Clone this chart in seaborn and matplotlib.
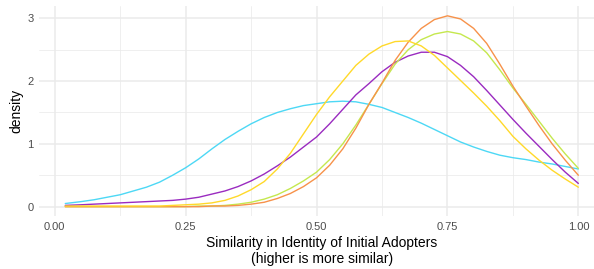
import pandas as pd
import matplotlib.pyplot as plt
from matplotlib.ticker import FixedLocator
import seaborn as sns

# x positions the curves were read at
similarity = [0.02, 0.05, 0.075, 0.10, 0.125, 0.15, 0.175, 0.20, 0.225, 0.25,
              0.275, 0.30, 0.325, 0.35, 0.375, 0.40, 0.425, 0.45, 0.475, 0.50,
              0.525, 0.55, 0.575, 0.60, 0.625, 0.65, 0.675, 0.70, 0.725, 0.75,
              0.775, 0.80, 0.825, 0.85, 0.875, 0.90, 0.925, 0.95, 0.975, 1.00]

# density
dens_cyan = [0.05, 0.08, 0.11, 0.15, 0.19, 0.25, 0.31, 0.39, 0.50, 0.62,
             0.76, 0.92, 1.07, 1.20, 1.32, 1.42, 1.50, 1.56, 1.61, 1.64,
             1.67, 1.68, 1.67, 1.63, 1.58, 1.50, 1.42, 1.33, 1.23, 1.13,
             1.03, 0.95, 0.88, 0.82, 0.78, 0.75, 0.71, 0.68, 0.64, 0.60]
dens_purple = [0.02, 0.03, 0.04, 0.05, 0.06, 0.07, 0.08, 0.09, 0.10, 0.12,
               0.15, 0.20, 0.25, 0.32, 0.41, 0.52, 0.65, 0.79, 0.95, 1.11,
               1.32, 1.55, 1.78, 1.96, 2.15, 2.30, 2.40, 2.46, 2.46, 2.39,
               2.25, 2.07, 1.85, 1.62, 1.39, 1.17, 0.96, 0.75, 0.55, 0.37]
dens_green = [0.00, 0.00, 0.00, 0.00, 0.00, 0.00, 0.00, 0.00, 0.00, 0.00,
              0.01, 0.01, 0.02, 0.04, 0.07, 0.12, 0.19, 0.29, 0.41, 0.55,
              0.75, 1.00, 1.30, 1.63, 1.96, 2.27, 2.50, 2.66, 2.75, 2.79,
              2.75, 2.64, 2.45, 2.18, 1.89, 1.63, 1.36, 1.09, 0.84, 0.61]
dens_orange = [0.00, 0.00, 0.00, 0.00, 0.00, 0.00, 0.00, 0.00, 0.00, 0.00,
               0.00, 0.01, 0.01, 0.02, 0.04, 0.07, 0.13, 0.21, 0.32, 0.46,
               0.66, 0.92, 1.25, 1.63, 1.97, 2.33, 2.62, 2.84, 2.98, 3.04,
               2.99, 2.84, 2.60, 2.27, 1.92, 1.60, 1.29, 1.00, 0.74, 0.50]
dens_yellow = [0.01, 0.01, 0.01, 0.01, 0.01, 0.01, 0.01, 0.01, 0.02, 0.03,
               0.04, 0.06, 0.10, 0.17, 0.27, 0.40, 0.60, 0.85, 1.16, 1.47,
               1.75, 2.00, 2.25, 2.43, 2.56, 2.63, 2.64, 2.56, 2.41, 2.21,
               2.01, 1.81, 1.60, 1.37, 1.12, 0.92, 0.74, 0.58, 0.44, 0.31]

groups = ["cyan", "purple", "green", "orange", "yellow"]
colors = ["#4DD8F5", "#9A2BC0", "#C5E84E", "#F7924A", "#FFD92A"]

frames = []
for name, vals in zip(groups, [dens_cyan, dens_purple, dens_green, dens_orange, dens_yellow]):
    frames.append(pd.DataFrame({"similarity": similarity, "density": vals, "group": name}))
df = pd.concat(frames, ignore_index=True)

sns.set_theme(style="white")
plt.rcParams['font.family'] = ['Liberation Sans', 'DejaVu Sans']

fig = plt.figure(figsize=(5.94, 2.69), dpi=100)
ax = fig.add_axes([39.3 / 594, 52.8 / 269, (604 - 39.3) / 594, (216.2 - 6.4) / 269])

sns.lineplot(data=df, x="similarity", y="density", hue="group", hue_order=groups,
             palette=colors, linewidth=1.0, estimator=None, legend=False, ax=ax,
             solid_joinstyle="round", solid_capstyle="round")

ax.set_xlim(-0.0296, 1.049)
ax.set_ylim(-0.152, 3.19)
ax.set_xticks([0, 0.25, 0.5, 0.75, 1.0])
ax.set_xticklabels(["0.00", "0.25", "0.50", "0.75", "1.00"])
ax.set_yticks([0, 1, 2, 3])
ax.xaxis.set_minor_locator(FixedLocator([0.125, 0.375, 0.625, 0.875]))
ax.yaxis.set_minor_locator(FixedLocator([0.5, 1.5, 2.5]))
ax.grid(which="major", color="#EBEBEB", linewidth=1.1)
ax.grid(which="minor", color="#EBEBEB", linewidth=0.55)
ax.set_axisbelow(True)
ax.tick_params(which="both", length=0, labelsize=8, labelcolor="#4D4D4D", pad=4)
for s in ax.spines.values():
    s.set_visible(False)

ax.set_xlabel("Similarity in Identity of Initial Adopters\n(higher is more similar)",
              fontsize=10, color="black", labelpad=3)
ax.set_ylabel("density", fontsize=10, color="black", labelpad=3)

fig.savefig("out.png", dpi=100, facecolor="white")
